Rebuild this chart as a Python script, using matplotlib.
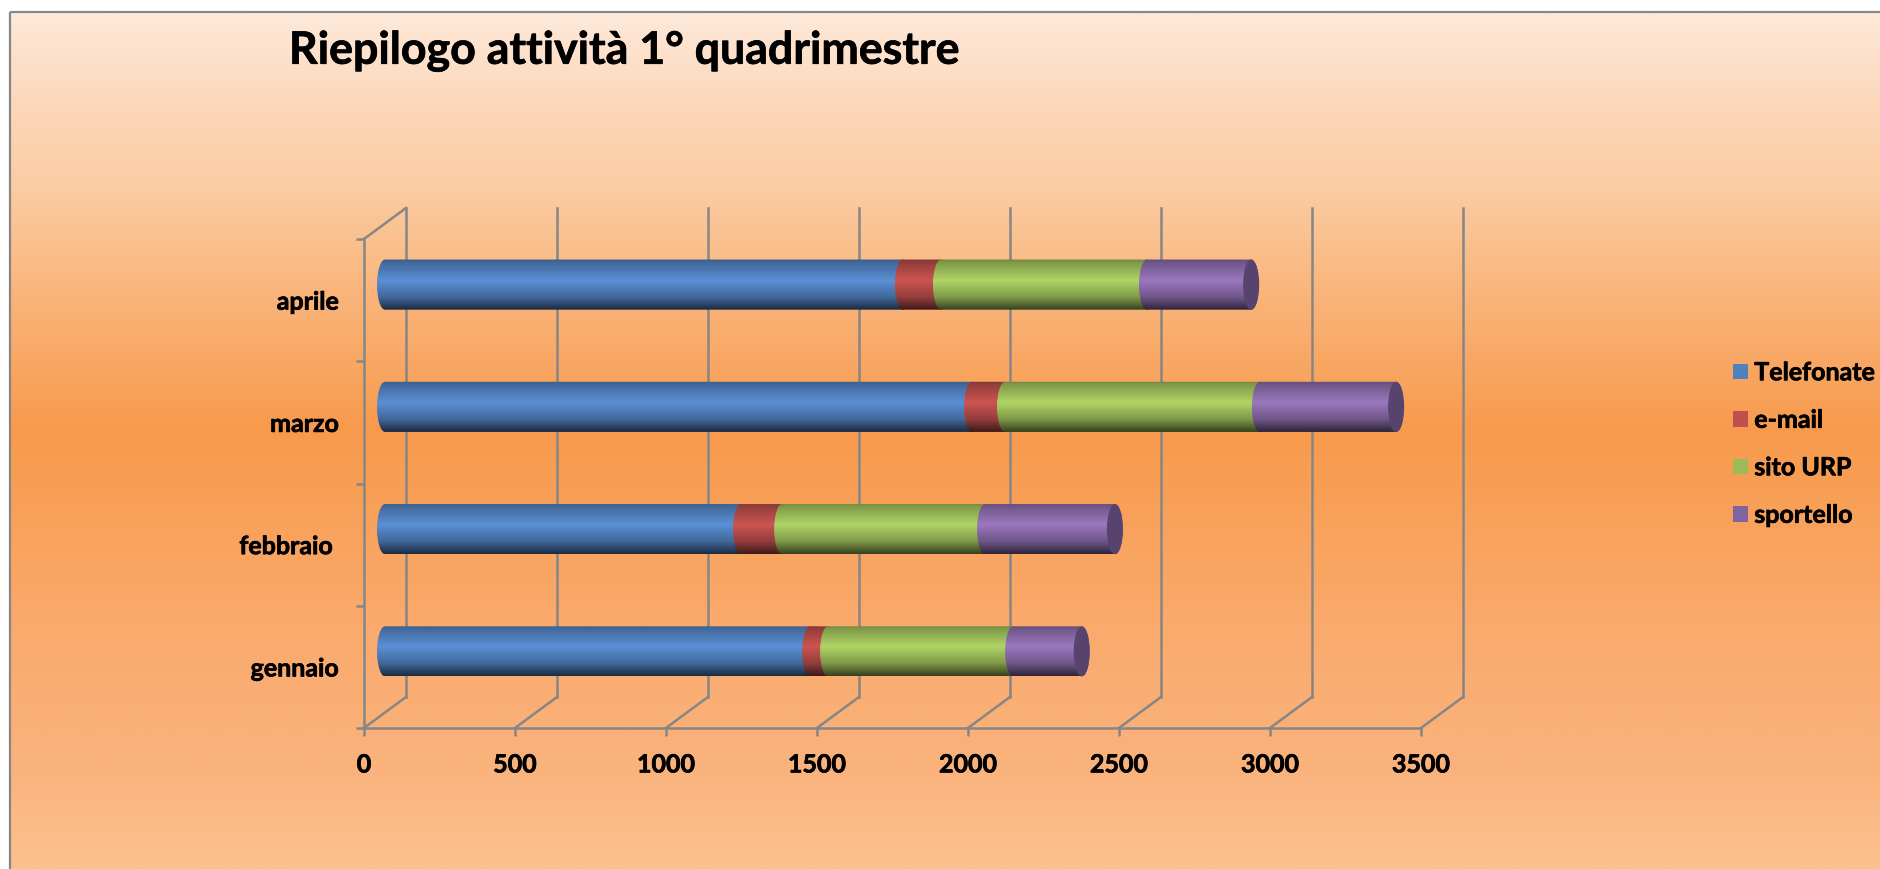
import numpy as np
import matplotlib
matplotlib.use("Agg")
import matplotlib.pyplot as plt
from matplotlib.colors import LinearSegmentedColormap, to_rgb
from matplotlib.patches import Ellipse, PathPatch, Patch, Rectangle
from matplotlib.path import Path
from matplotlib.transforms import Affine2D
import matplotlib.patheffects as pe

plt.rcParams['font.family'] = ['Lato', 'DejaVu Sans']
plt.rcParams['font.weight'] = 'bold'

# dati
mesi = ["gennaio", "febbraio ", "marzo", "aprile"]
telefonate = [1408, 1179, 1944, 1715]
email = [59, 136, 109, 126]
sito_urp = [613, 672, 844, 682]
sportello = [227, 430, 451, 345]
serie = ["Telefonate", "e-mail", "sito URP", "sportello"]
valori = [telefonate, email, sito_urp, sportello]
colori = ["#5b90d6", "#cc5552", "#b0d565", "#9b78be"]
legenda = ["#4f81bd", "#c0504d", "#9bbb59", "#8064a2"]
tick_x = [0, 500, 1000, 1500, 2000, 2500, 3000, 3500]

W, H = 1881, 870
GRIGIO = "#868686"
LW = 1.8
DX, DY = 42, 31  # profondita' della parete di fondo, in pixel
# testo un po' piu' pesante, come nell'originale
SPESSO = [pe.withStroke(linewidth=0.5, foreground="black")]


def fig_rect(x0, y0, x1, y1):
    # pixel dall'alto -> frazioni di figura
    return [x0 / W, 1 - y1 / H, (x1 - x0) / W, (y1 - y0) / H]


fig = plt.figure(figsize=(W / 100, H / 100), dpi=100, facecolor="white")

# -----------------------------
# Sfondo sfumato
# -----------------------------
bg = fig.add_axes([0, 0, 1, 1], zorder=0)
bg.set_xlim(0, W)
bg.set_ylim(H, 0)
bg.axis("off")
sfondo = LinearSegmentedColormap.from_list("sfondo", [
    (0.0, "#fee9d9"), (0.10, "#fcd8bc"), (0.21, "#fbcba0"), (0.33, "#fab47a"),
    (0.49, "#f79a4c"), (0.70, "#faa96a"), (0.89, "#fab37d"), (1.0, "#fbc18f")])
bg.imshow(np.linspace(0, 1, 500).reshape(-1, 1), cmap=sfondo, aspect="auto",
          extent=(11, W, H, 13), interpolation="bilinear")
bg.add_patch(Rectangle((10.3, 12.7), W, H, fill=False, edgecolor=GRIGIO, lw=1.6))
bg.set_xlim(0, W)
bg.set_ylim(H, 0)

# -----------------------------
# Assi
# -----------------------------
ax = fig.add_axes(fig_rect(364, 240, 1421, 729), zorder=1)
ax.patch.set_alpha(0)
ax.set_xlim(0, 3500)
ax.set_ylim(0, 4)
for lato in ["top", "right"]:
    ax.spines[lato].set_visible(False)
for lato in ["left", "bottom"]:
    ax.spines[lato].set_color(GRIGIO)
    ax.spines[lato].set_linewidth(LW)

ax.set_xticks(tick_x)
ax.tick_params(axis="x", length=5.8, width=LW, color=GRIGIO, labelsize=18, pad=12.5)
ax.set_yticks(np.arange(len(mesi)) + 0.5, labels=mesi)
ax.set_yticks(np.arange(len(mesi) + 1), minor=True)
ax.tick_params(axis="y", which="major", length=0, labelsize=18, pad=18)
ax.tick_params(axis="y", which="minor", length=5.8, width=LW, color=GRIGIO)
for t in ax.get_xticklabels() + ax.get_yticklabels():
    t.set_path_effects(SPESSO)

fondo = ax.transData + Affine2D().translate(DX, DY)
meta = ax.transData + Affine2D().translate(DX / 2, DY / 2)
for v in tick_x:
    ax.plot([v, v], [0, 4], color=GRIGIO, lw=LW, transform=fondo, clip_on=False)
    p0 = ax.transData.transform((v, 0))
    ax.plot([p0[0], p0[0] + DX], [p0[1], p0[1] + DY], color=GRIGIO, lw=LW,
            transform=None, clip_on=False)
p0 = ax.transData.transform((0, 4))
ax.plot([p0[0], p0[0] + DX], [p0[1], p0[1] + DY], color=GRIGIO, lw=LW,
        transform=None, clip_on=False)

# -----------------------------
# Cilindri
# -----------------------------
over = fig.add_axes([0, 0, 1, 1], zorder=2)
over.patch.set_alpha(0)
over.axis("off")


def sfumatura(colore):
    base = np.array(to_rgb(colore))
    pos = [0.0, 0.06, 0.42, 0.75, 0.93, 1.0]
    fatt = [0.62, 0.72, 1.0, 0.72, 0.42, 0.30]
    righe = np.linspace(0, 1, 120)
    img = np.stack([np.interp(righe, pos, np.array(fatt) * base[c]) for c in range(3)], axis=1)
    return img.reshape(120, 1, 3)


def cilindro(x0, x1, y0, y1, colore):
    # metà ellisse a sinistra, poi fino a metà ellisse a destra
    r = 8.0
    k = 0.5523
    ym = (y0 + y1) / 2
    ry = (y1 - y0) / 2
    verts = [(x0, y0),
             (x0 - k * r, y0), (x0 - r, ym - k * ry), (x0 - r, ym),
             (x0 - r, ym + k * ry), (x0 - k * r, y1), (x0, y1),
             (x1, y1),
             (x1 + k * r, y1), (x1 + r, ym + k * ry), (x1 + r, ym),
             (x1 + r, ym - k * ry), (x1 + k * r, y0), (x1, y0),
             (x0, y0)]
    codes = [Path.MOVETO] + [Path.CURVE4] * 6 + [Path.LINETO] + [Path.CURVE4] * 6 + [Path.CLOSEPOLY]
    forma = PathPatch(Path(verts, codes), facecolor="none", edgecolor="none")
    over.add_patch(forma)
    im = over.imshow(sfumatura(colore), aspect="auto", extent=(x0 - r - 1, x1 + r + 1, y1, y0),
                     interpolation="bilinear")
    im.set_clip_path(forma)


sinistra = np.zeros(len(mesi))
barre = []
for nome, val in zip(serie, valori):
    b = ax.barh(np.arange(len(mesi)) + 0.5, val, left=sinistra, height=0.41,
                transform=meta, facecolor="none", edgecolor="none", label=nome)
    barre.append(b)
    sinistra = sinistra + np.array(val)

for i in range(len(mesi)):
    for b, colore in zip(barre, colori):
        e = b[i].get_window_extent()
        cilindro(e.x0, e.x1, H - e.y1, H - e.y0, colore)
    e = barre[-1][i].get_window_extent()
    over.add_patch(Ellipse((e.x1, H - (e.y0 + e.y1) / 2), 16, e.height,
                           facecolor="#56446f", edgecolor="none"))

over.set_xlim(0, W)
over.set_ylim(H, 0)

# -----------------------------
# Titolo e legenda
# -----------------------------
over.text(289, 52, "Riepilogo attività 1° quadrimestre", fontsize=32.2, fontweight="bold",
          ha="left", va="center", color="black", path_effects=SPESSO)

maniglie = [Patch(facecolor=c, edgecolor="none", label=s) for c, s in zip(legenda, serie)]
leg = over.legend(handles=maniglie, loc="center left", bbox_to_anchor=(1733 / W, 1 - 445 / H),
                  bbox_transform=fig.transFigure, frameon=False, fontsize=18, borderpad=0,
                  borderaxespad=0, labelspacing=0.98, handlelength=0.6, handleheight=0.6,
                  handletextpad=0.25)
for t in leg.get_texts():
    t.set_path_effects(SPESSO)

fig.savefig("out.png", dpi=100)
